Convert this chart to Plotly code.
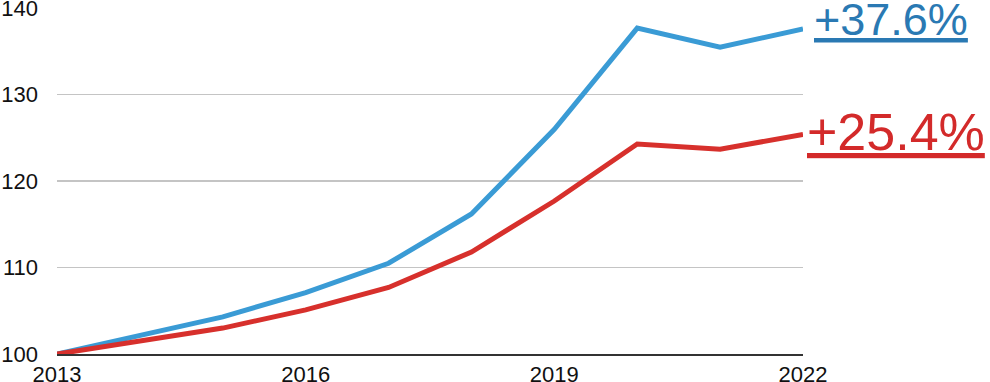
import plotly.graph_objects as go

years = [2013, 2014, 2015, 2016, 2017, 2018, 2019, 2020, 2021, 2022]
series_blue = [100.0, 102.2, 104.3, 107.1, 110.5, 116.2, 126.0, 137.7, 135.5, 137.6]
series_red = [100.0, 101.5, 103.0, 105.1, 107.7, 111.8, 117.7, 124.3, 123.7, 125.4]
label_blue = "+37.6%"
label_red = "+25.4%"
x_ticks = [2013, 2016, 2019, 2022]
y_ticks = [100, 110, 120, 130, 140]

BLUE = "#3a9bd5"
RED = "#d7302c"
BLUE_TXT = "#2a79b3"
RED_TXT = "#d32a2a"
FONT = "Liberation Sans, Arial, sans-serif"

fig = go.Figure()
fig.add_trace(go.Scatter(x=years, y=series_blue, mode="lines",
                         line=dict(color=BLUE, width=5), showlegend=False, hoverinfo="skip"))
fig.add_trace(go.Scatter(x=years, y=series_red, mode="lines",
                         line=dict(color=RED, width=5), showlegend=False, hoverinfo="skip"))

fig.add_annotation(x=years[-1], y=series_blue[-1], xref="x", yref="y",
                   text=f"<u>{label_blue}</u>", showarrow=False,
                   xanchor="left", yanchor="middle", xshift=9, yshift=10,
                   font=dict(family=FONT, size=45, color=BLUE_TXT))
fig.add_annotation(x=years[-1], y=series_red[-1], xref="x", yref="y",
                   text=f"<u>{label_red}</u>", showarrow=False,
                   xanchor="left", yanchor="middle", xshift=2, yshift=2,
                   font=dict(family=FONT, size=52, color=RED_TXT))

fig.update_layout(
    width=990, height=392,
    margin=dict(l=57, r=187, t=18, b=28, autoexpand=False),
    paper_bgcolor="white", plot_bgcolor="white",
    font=dict(family=FONT, size=22, color="#111111"),
    xaxis=dict(range=[2013, 2022], tickvals=x_ticks, ticktext=[str(t) for t in x_ticks],
               showgrid=False, zeroline=False, showline=True, linecolor="#333333",
               linewidth=1.5, ticks="", ticklabelstandoff=0, automargin=False,
               fixedrange=True),
    yaxis=dict(range=[100, 140.03], tickvals=y_ticks, showgrid=True, gridcolor="#c4c4c4",
               gridwidth=1.5, zeroline=False, showline=False, ticks="",
               ticklabelstandoff=18, automargin=False, fixedrange=True),
)

fig.write_html("out.html", config={"displayModeBar": False, "staticPlot": True},
               post_script="document.body.style.margin='0';document.body.style.marginTop='-10px';"
                           "document.body.style.overflow='hidden';")
